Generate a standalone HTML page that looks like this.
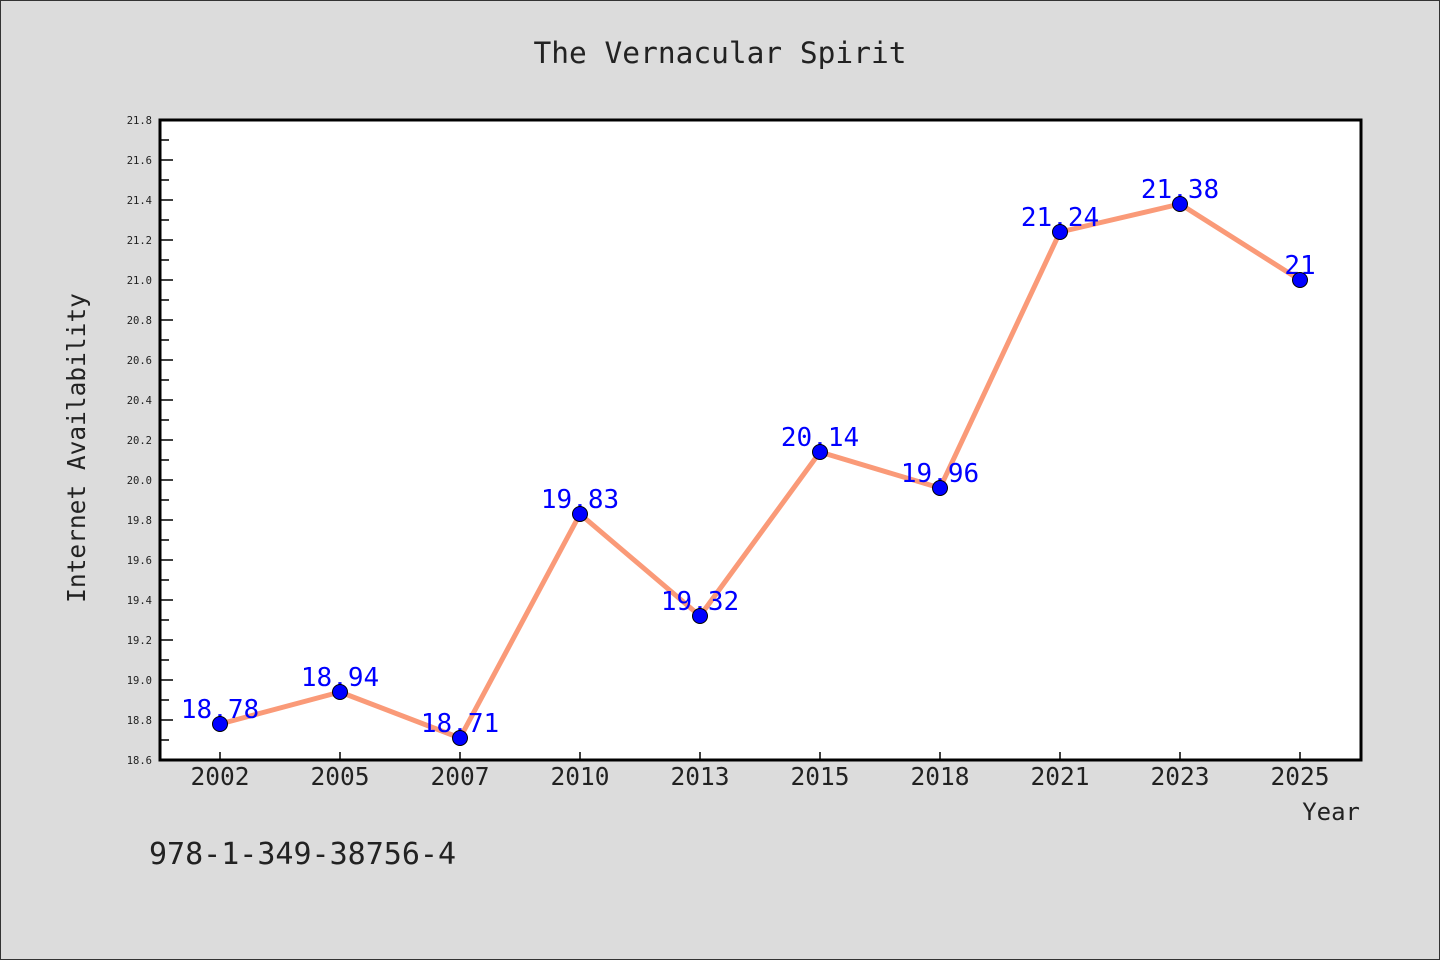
<!DOCTYPE html>
<html><head><meta charset="utf-8"><style>
body{margin:0;background:#dcdcdc}
svg{display:block;font-family:"DejaVu Sans Mono","Liberation Mono",monospace}
</style></head><body>
<svg id="chart" width="1440" height="960" xmlns="http://www.w3.org/2000/svg">
<rect x="0.5" y="0.5" width="1439" height="959" fill="#dcdcdc" stroke="#333" stroke-width="1"/>
<text x="720" y="63" text-anchor="middle" font-size="29.5" fill="#222">The Vernacular Spirit</text>
<rect x="160" y="120" width="1201" height="640" fill="#fff"/>
<g id="yaxis"></g>
<g id="xaxis"></g>
<g id="series"></g>
<rect x="160" y="120" width="1201" height="640" fill="none" stroke="#000" stroke-width="3"/>
<text transform="translate(85,448) rotate(-90)" text-anchor="middle" font-size="24.5" fill="#222">Internet Availability</text>
<text x="1360" y="820" text-anchor="end" font-size="24" fill="#222">Year</text>
<text x="149" y="864" font-size="30" fill="#222">978-1-349-38756-4</text>
</svg>
<script>
const categories = ["2002","2005","2007","2010","2013","2015","2018","2021","2023","2025"];
const values = [18.78,18.94,18.71,19.83,19.32,20.14,19.96,21.24,21.38,21];
const valueLabels = ["18.78","18.94","18.71","19.83","19.32","20.14","19.96","21.24","21.38","21"];
const yTickLabels = ["18.6","18.8","19.0","19.2","19.4","19.6","19.8","20.0","20.2","20.4","20.6","20.8","21.0","21.2","21.4","21.6","21.8"];
const yMin = 18.6, yMax = 21.8;
const NS = "http://www.w3.org/2000/svg";
const yScale = v => 760 - (v - yMin) / (yMax - yMin) * 640;
const xScale = i => 220 + i * 120;
function mk(tag, attrs, parent, text){const e=document.createElementNS(NS,tag);for(const k in attrs)e.setAttribute(k,attrs[k]);if(text!==undefined)e.textContent=text;parent.appendChild(e);return e;}
const ya=document.getElementById('yaxis'), xa=document.getElementById('xaxis'), sr=document.getElementById('series');
yTickLabels.forEach((t,i)=>{
  const v=parseFloat(t), y=yScale(v);
  const tk=mk('line',{x1:160,x2:173,y1:y,y2:y,stroke:'#000','stroke-width':1.5},ya);
  
  
  const lb=mk('text',{x:152,y:y+4,'text-anchor':'end','font-size':10.5,fill:'#222'},ya,t);
  
  
  if(i<yTickLabels.length-1){
    const ym=yScale(v+0.1);
    const mn=mk('line',{x1:160,x2:169,y1:ym,y2:ym,stroke:'#000','stroke-width':1.5},ya);
    
    
  }
});
categories.forEach((c,i)=>{
  const x=xScale(i);
  const tk=mk('line',{x1:x,x2:x,y1:760,y2:752,stroke:'#000','stroke-width':1.5},xa);
  
  
  const lb=mk('text',{x:x,y:785,'text-anchor':'middle','font-size':24.5,fill:'#222'},xa,c);
  
  
});
const pts=values.map((v,i)=>xScale(i)+','+yScale(v)).join(' ');
const line=mk('polyline',{points:pts,fill:'none',stroke:'#fa9a78','stroke-width':5,'stroke-linejoin':'round'},sr);


values.forEach((v,i)=>{
  const x=xScale(i), y=yScale(v);
  const lb=mk('text',{x:x,y:y-6,'text-anchor':'middle','font-size':26,fill:'#0000ff'},sr,valueLabels[i]);
  
  
});
values.forEach((v,i)=>{
  const c=mk('circle',{cx:xScale(i),cy:yScale(v),r:7.5,fill:'#0000ff',stroke:'#000','stroke-width':1},sr);
  
  
});
</script>
</body></html>
